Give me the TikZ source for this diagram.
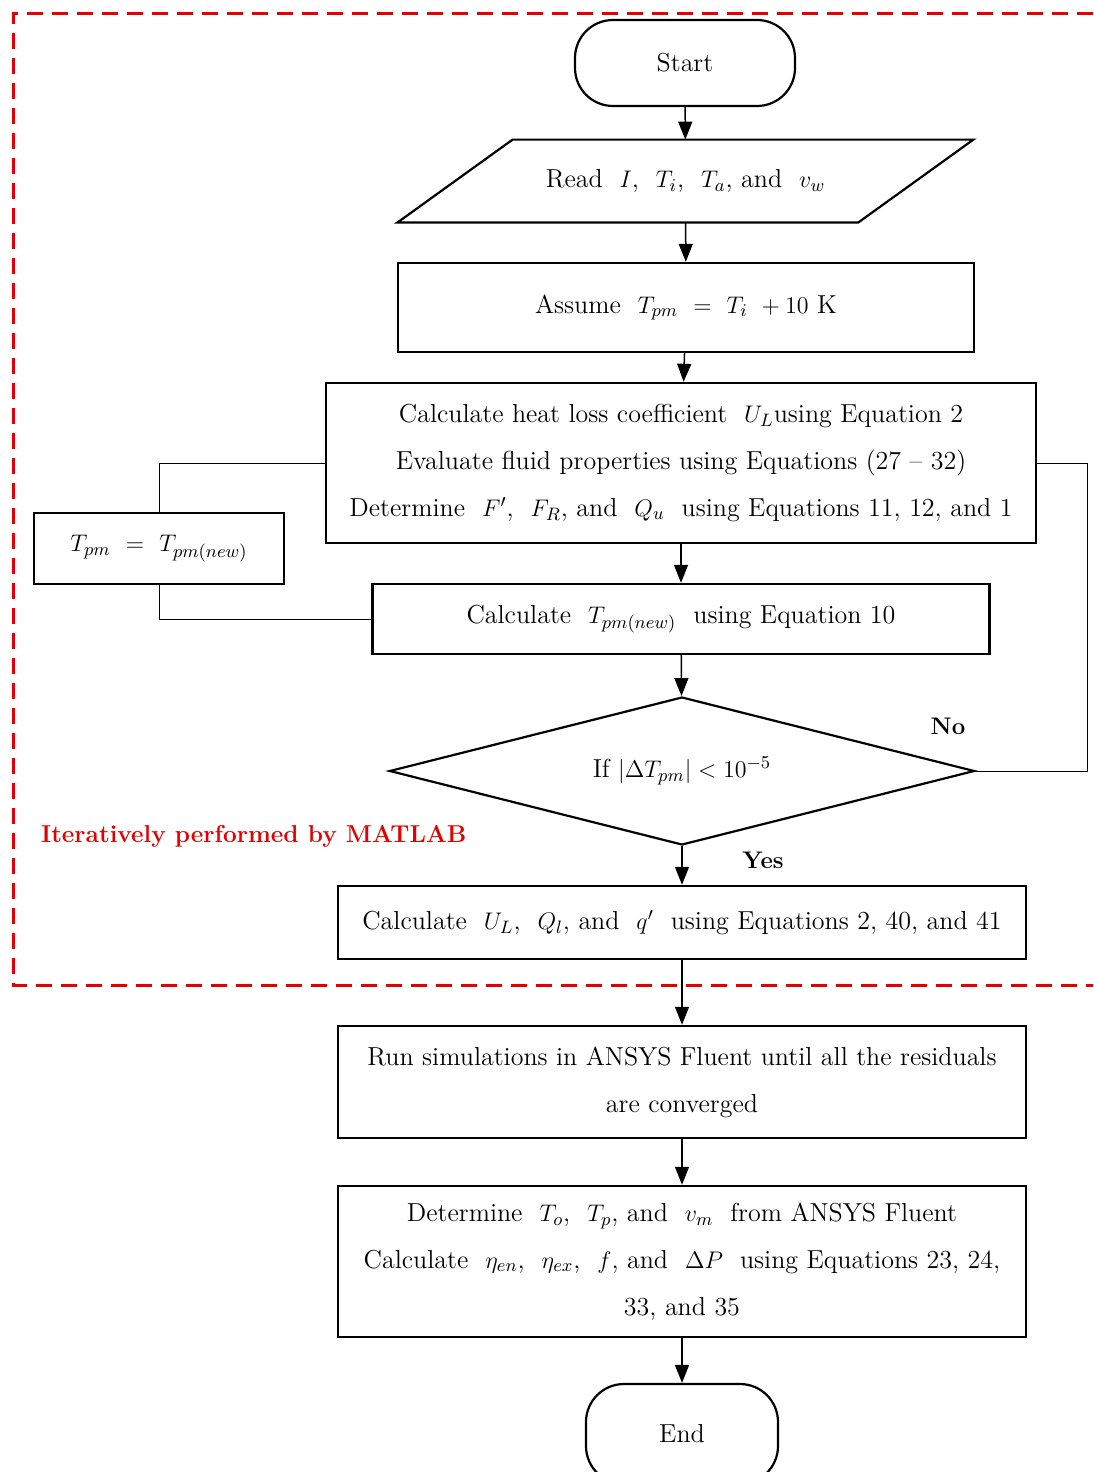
\documentclass[tikz,border=0pt]{standalone}
\usepackage{pgf}
\usetikzlibrary{arrows.meta}
\usetikzlibrary{positioning}
\usetikzlibrary{calc}
\usetikzlibrary{shapes.geometric}
\definecolor{matlabred}{RGB}{228,0,0}

\begin{document}
\begin{tikzpicture}[x=0.5pt,y=-0.5pt,>={Triangle[length=9pt,width=7pt]},
		font=\fontsize{13}{23.4}\selectfont]
		\tikzstyle{terminal}=[draw,line width=1.1pt,rounded corners=19pt,inner sep=0pt]
		\tikzstyle{io}=[line width=1.1pt,line join=miter]
		\tikzstyle{process}=[draw,line width=1.2pt,align=center,inner sep=0pt]
		\tikzstyle{decision}=[draw,line width=1.1pt,diamond,aspect=4,inner sep=0pt]
		\tikzstyle{flow}=[->,line width=0.75pt]
		\tikzstyle{loop}=[line width=0.5pt]
		
		\useasboundingbox (0,0) rectangle (1093,1472);
		
		% region done in MATLAB
		\draw[matlabred,line width=1.5pt,dash pattern=on 8pt off 4.5pt]
		(1093,13) -- (13,13) -- (13,985) -- (1093,985);
		\node[matlabred,anchor=west,font=\fontsize{12.2}{15}\selectfont\bfseries]
		(matlab) at (34,836) {Iteratively performed by MATLAB};
		
		\node[terminal,minimum width=110pt,minimum height=43pt]  (Start)  at (685,63)   {Start};
		\node[minimum width=230pt,minimum height=41pt,inner sep=0pt] (Read) at (685.5,181) {Read \ $I$, \ $T_i$, \ $T_a$, and \ $v_w$};
		\node[process,minimum width=288pt,minimum height=44.5pt] (Assume) at (686,307.5) {Assume \ $T_{pm}\ =\ T_i\ + 10$ K};
		\node[process,minimum width=355pt,minimum height=80pt]   (Coeff)  at (681,463)  {Calculate heat loss coefficient \ $U_L$using Equation 2\\
			Evaluate fluid properties using Equations (27 -- 32)\\
			Determine \ $F'$, \ $F_R$, and \ $Q_u$ \ using Equations 11, 12, and 1};
		\node[process,minimum width=308.5pt,minimum height=35pt] (NewT)   at (681,619)  {Calculate \ $T_{pm(new)}$ \ using Equation 10};
		\node[process,minimum width=125pt,minimum height=35.5pt] (Update) at (159,548.5) {$T_{pm}\ =\ T_{pm(new)}$};
		\node[decision,minimum width=292.5pt,minimum height=74pt] (Check) at (682,771) {If $|\Delta T_{pm}| < 10^{-5}$};
		\node[process,minimum width=344pt,minimum height=36.5pt] (Loss)   at (682,922.5) {Calculate \ $U_L$, \ $Q_l$, and \ $q'$ \ using Equations 2, 40, and 41};
		\node[process,minimum width=344pt,minimum height=56pt]   (Fluent) at (682,1082) {Run simulations in ANSYS Fluent until all the residuals\\ are converged};
		\node[process,minimum width=344pt,minimum height=75.5pt] (Output) at (682,1261.5) {Determine \ $T_o$, \ $T_p$, and \ $v_m$ \ from ANSYS Fluent\\
			Calculate \ $\eta_{en}$, \ $\eta_{ex}$, \ $f$, and \ $\Delta P$ \ using Equations 23, 24,\\ 33, and 35};
		\node[terminal,minimum width=96pt,minimum height=50pt]   (End)    at (682,1434) {End};
		
		% slanted input box round the Read node
		\draw[io] ($(Read.south west)+(-57.5,0)$) -- ($(Read.north west)+(57.5,0)$)
		-- ($(Read.north east)+(57.5,0)$) -- ($(Read.south east)+(-57.5,0)$) -- cycle;
		
		\node[font=\fontsize{12}{15}\selectfont\bfseries] (No)  at (948,726) {No};
		\node[font=\fontsize{12}{15}\selectfont\bfseries] (Yes) at (763,860) {Yes};
		\coordinate (NoTurn) at (1087,771);
		
		\path[flow] (Start)  edge (Read)
		(Read)   edge (Assume)
		(Assume) edge (Coeff)
		(Coeff)  edge (NewT)
		(NewT)   edge (Check)
		(Check)  edge (Loss)
		(Loss)   edge (Fluent)
		(Fluent) edge (Output)
		(Output) edge (End);
		
		\draw[loop] (NewT.west) -| (Update.south);
		\draw[loop] (Update.north) |- (Coeff.west);
		\draw[loop] (Check.east) -- (NoTurn) |- (Coeff.east);
\end{tikzpicture}
\end{document}
